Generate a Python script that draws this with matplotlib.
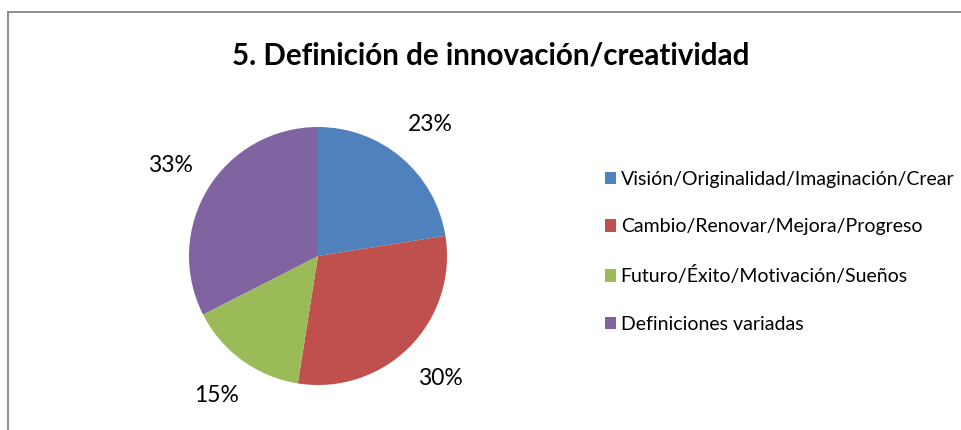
import numpy as np
import matplotlib.pyplot as plt
from matplotlib.patches import Patch
from matplotlib.lines import Line2D

plt.rcParams['font.family'] = ['Lato', 'DejaVu Sans']

# Data (counts)
categories = ['Visión/Originalidad/Imaginación/Crear',
              'Cambio/Renovar/Mejora/Progreso',
              'Futuro/Éxito/Motivación/Sueños',
              'Definiciones variadas']
counts = [9, 12, 6, 13]
colors = ['#4f81bd', '#c0504d', '#9bbb59', '#8064a2']
title = '5. Definición de innovación/creatividad'

W, H = 961, 430
fig = plt.figure(figsize=(W / 100, H / 100), dpi=100)

# pie axes: centre (318, 256) px, radius 129 px
cx, cy, r = 318, 256, 129
ax = fig.add_axes([(cx - r) / W, (H - cy - r) / H, 2 * r / W, 2 * r / H])


def pct_label(p):
    return f'{int(np.floor(p + 0.5 + 1e-9))}%'


wedges, _, autotexts = ax.pie(counts, colors=colors, startangle=90, counterclock=False,
                              autopct=pct_label, pctdistance=1.34, radius=1,
                              wedgeprops=dict(linewidth=0),
                              textprops=dict(fontsize=16.5, color='black'))
ax.set_xlim(-1, 1)
ax.set_ylim(-1, 1)
ax.set_aspect('auto')
ax.axis('off')

fig.text(491 / W, 1 - 56 / H, title, ha='center', va='center',
         fontsize=21.3, fontweight='bold')

handles = [Patch(facecolor=c, edgecolor='none') for c in colors]
fig.legend(handles, categories, loc='upper left', bbox_to_anchor=(597 / W, 1 - 163 / H),
           frameon=False, fontsize=14, handlelength=0.6, handleheight=0.6,
           handletextpad=0.22, labelspacing=1.58, borderaxespad=0)

# chart border (only top and left are visible in the crop)
fig.add_artist(Line2D([8 / W, 1], [1 - 12 / H, 1 - 12 / H], color='#868686', lw=1.3))
fig.add_artist(Line2D([8 / W, 8 / W], [0, 1 - 12 / H], color='#868686', lw=1.3))

plt.savefig('out.png', dpi=100)
